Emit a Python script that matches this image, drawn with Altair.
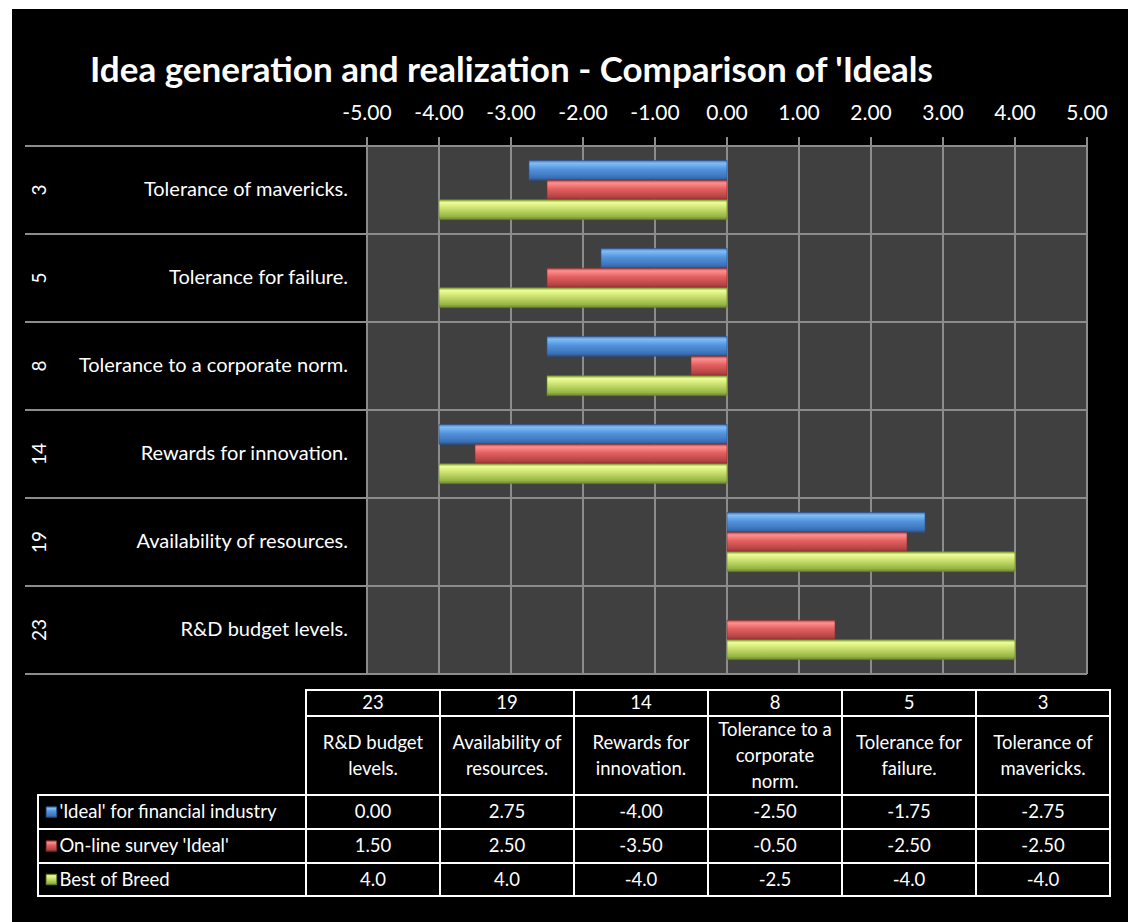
import altair as alt
import pandas as pd

# ---- data -------------------------------------------------------------
# categories from top to bottom of the bar panel
numbers = ["3", "5", "8", "14", "19", "23"]
categories = [
    "Tolerance of mavericks.",
    "Tolerance for failure.",
    "Tolerance to a corporate norm.",
    "Rewards for innovation.",
    "Availability of resources.",
    "R&D budget levels.",
]
# wrapped names used in the data table header
table_names = [
    "Tolerance of\nmavericks.",
    "Tolerance for\nfailure.",
    "Tolerance to a\ncorporate\nnorm.",
    "Rewards for\ninnovation.",
    "Availability of\nresources.",
    "R&D budget\nlevels.",
]
series = ["'Ideal' for financial industry", "On-line survey 'Ideal'", "Best of Breed"]
financial = [-2.75, -1.75, -2.50, -4.00, 2.75, 0.00]
online = [-2.50, -2.50, -0.50, -3.50, 2.50, 1.50]
best = [-4.0, -4.0, -2.5, -4.0, 4.0, 4.0]
value_formats = ["{:.2f}", "{:.2f}", "{:.1f}"]
x_ticks = [-5, -4, -3, -2, -1, 0, 1, 2, 3, 4, 5]
title_text = "Idea generation and realization - Comparison of 'Ideals"

FONT = "Lato"
GRID = "#8c8c8c"
LINE_H = 26

# bevel-like vertical gradients per series
def bevel(c_edge, c_hi, c_mid, c_lo, c_dark):
    return alt.Gradient(
        gradient="linear", x1=0, x2=0, y1=0, y2=1,
        stops=[
            alt.GradientStop(offset=0, color=c_edge),
            alt.GradientStop(offset=0.14, color=c_hi),
            alt.GradientStop(offset=0.45, color=c_mid),
            alt.GradientStop(offset=0.85, color=c_lo),
            alt.GradientStop(offset=1, color=c_dark),
        ],
    )

fills = [
    bevel("#3f74b8", "#80bdf8", "#5393dc", "#3c73ba", "#2a5590"),
    bevel("#b24444", "#ff9090", "#e35f5f", "#b44444", "#872e2e"),
    bevel("#8eae40", "#eefd98", "#c8de6c", "#94b445", "#6d852a"),
]
edges = ["#2a5590", "#872e2e", "#6d852a"]

long = pd.DataFrame({
    "num": numbers * 3,
    "cat": categories * 3,
    "series": [s for s in series for _ in categories],
    "value": financial + online + best,
})

one = pd.DataFrame({"k": [0]})

xscale = alt.Scale(domain=[-5, 5], nice=False, zero=False)
yscale = alt.Scale(domain=categories, paddingInner=0, paddingOuter=0)
offscale = alt.Scale(domain=series, paddingInner=0, paddingOuter=0.73)

# ---- bar panel --------------------------------------------------------
frame = alt.Chart(one).mark_rect(fill="black").encode(
    x=alt.value(-355), x2=alt.value(761), y=alt.value(-137), y2=alt.value(776)
)

panel = alt.Chart(pd.DataFrame({"lo": [-5], "hi": [5]})).mark_rect(fill="#404040").encode(
    x=alt.X("lo:Q", scale=xscale, axis=None), x2="hi:Q",
    y=alt.value(0), y2=alt.value(528),
)

ticks_df = pd.DataFrame({"v": x_ticks, "label": [f"{v:.2f}" for v in x_ticks]})

# vertical gridlines, each with a short tick above the panel
vgrid = alt.Chart(ticks_df).mark_rule(color=GRID, strokeWidth=2).encode(
    x=alt.X("v:Q", scale=xscale, axis=None),
    y=alt.value(-9), y2=alt.value(528),
)
# value labels along the top edge
xlabels = alt.Chart(ticks_df).mark_text(
    align="center", baseline="alphabetic", font=FONT, fontSize=21, color="white"
).encode(
    x=alt.X("v:Q", scale=xscale, axis=None),
    y=alt.value(-26),
    text="label:N",
)

cats_df = pd.DataFrame({"num": numbers, "cat": categories})

hgrid = alt.Chart(cats_df).mark_rule(color=GRID, strokeWidth=2).encode(
    y=alt.Y("cat:N", scale=yscale, bandPosition=0, axis=None),
    x=alt.value(-342), x2=alt.value(720),
)
hgrid_end = alt.Chart(cats_df.tail(1)).mark_rule(color=GRID, strokeWidth=2).encode(
    y=alt.Y("cat:N", scale=yscale, bandPosition=1, axis=None),
    x=alt.value(-342), x2=alt.value(720),
)

bars = [
    alt.Chart(long[long["series"] == s]).mark_bar(
        fill=fills[i], stroke=edges[i], strokeWidth=0.8
    ).encode(
        x=alt.X("value:Q", scale=xscale, stack=None, axis=None),
        y=alt.Y("cat:N", scale=yscale, axis=None),
        yOffset=alt.YOffset("series:N", scale=offscale),
        strokeOpacity=alt.condition("datum.value == 0", alt.value(0), alt.value(0.8)),
    )
    for i, s in enumerate(series)
]

cat_labels = alt.Chart(cats_df).mark_text(
    align="right", baseline="middle", font=FONT, fontSize=20, color="white"
).encode(
    y=alt.Y("cat:N", scale=yscale, axis=None), x=alt.value(-19), text="cat:N"
)
num_labels = alt.Chart(cats_df).mark_text(
    align="center", baseline="middle", angle=270, font=FONT, fontSize=19, color="white"
).encode(
    y=alt.Y("cat:N", scale=yscale, axis=None), x=alt.value(-327), text="num:N"
)

title = alt.Chart(one).mark_text(
    text=title_text, align="left", baseline="alphabetic",
    font=FONT, fontSize=35, fontWeight="bold", color="white",
).encode(x=alt.value(-277), y=alt.value(-64))

plot_group = alt.layer(frame, panel, vgrid, hgrid, hgrid_end, *bars,
                       xlabels, cat_labels, num_labels, title)

# ---- data table -------------------------------------------------------
# table columns run in reverse category order (23 ... 3)
ROW = [0, 26, 105, 139, 173, 206]   # row edges, px from table top
tx = alt.Scale(domain=[-2, 6], range=[-329, 743], nice=False, zero=False)
ty = alt.Scale(domain=[0, 206], range=[544, 750], nice=False, zero=False)

order = list(reversed(range(len(categories))))
values_by_series = [financial, online, best]

cells = []
for j in range(6):
    for r in range(5):
        cells.append({"x": j, "x2": j + 1, "y": ROW[r], "y2": ROW[r + 1]})
for r in range(2, 5):
    cells.append({"x": -2, "x2": 0, "y": ROW[r], "y2": ROW[r + 1]})
cells = pd.DataFrame(cells)

def centred(r, label):
    # first-line position so that a wrapped label is centred in row r
    n = label.count("\n") + 1
    return (ROW[r] + ROW[r + 1]) / 2 - (n - 1) * LINE_H / 2

texts = []
for j, ci in enumerate(order):
    texts.append({"x": j + 0.5, "y": centred(0, numbers[ci]), "t": numbers[ci]})
    texts.append({"x": j + 0.5, "y": centred(1, table_names[ci]), "t": table_names[ci]})
    for si in range(3):
        label = value_formats[si].format(values_by_series[si][ci])
        texts.append({"x": j + 0.5, "y": centred(2 + si, label), "t": label})
texts = pd.DataFrame(texts)

legend_df = pd.DataFrame({
    "x": [-1.84] * 3,
    "sx": [-1.9] * 3,
    "y": [(ROW[2 + i] + ROW[3 + i]) / 2 for i in range(3)],
    "t": series,
})

table_cells = alt.Chart(cells).mark_rect(fill="black", stroke="white", strokeWidth=2).encode(
    x=alt.X("x:Q", scale=tx, axis=None), x2="x2:Q",
    y=alt.Y("y:Q", scale=ty, axis=None), y2="y2:Q",
)
table_text = alt.Chart(texts).mark_text(
    align="center", baseline="middle", lineBreak="\n", lineHeight=LINE_H,
    font=FONT, fontSize=18.5, color="white",
).encode(
    x=alt.X("x:Q", scale=tx, axis=None), y=alt.Y("y:Q", scale=ty, axis=None), text="t:N"
)
legend_text = alt.Chart(legend_df).mark_text(
    align="left", baseline="middle", font=FONT, fontSize=18.5, color="white"
).encode(
    x=alt.X("x:Q", scale=tx, axis=None), y=alt.Y("y:Q", scale=ty, axis=None), text="t:N"
)
swatches = [
    alt.Chart(legend_df.iloc[[i]]).mark_square(
        size=110, fill=fills[i], stroke=edges[i], strokeWidth=0.8, opacity=1
    ).encode(
        x=alt.X("sx:Q", scale=tx, axis=None), y=alt.Y("y:Q", scale=ty, axis=None)
    )
    for i in range(3)
]

table_group = alt.layer(table_cells, table_text, legend_text, *swatches)

chart = alt.layer(plot_group, table_group).resolve_scale(
    x="independent", y="independent"
).properties(
    width=720, height=528,
    autosize=alt.AutoSizeParams(type="none"),
    padding={"left": 367, "top": 146, "right": 41, "bottom": 248},
    background="white",
).configure_view(stroke=None)

chart.save("out.html", embed_options={"renderer": "svg", "actions": False})
